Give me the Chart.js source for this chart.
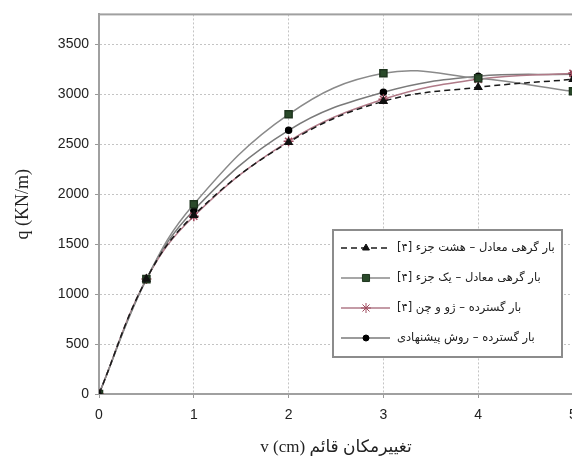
<!DOCTYPE html>
<html>
<head>
<meta charset="utf-8">
<script src="https://cdn.jsdelivr.net/npm/chart.js@4"></script>
<style>
  html, body { margin: 0; padding: 0; background: #fff; overflow: hidden; }
  #wrap { position: relative; width: 600px; height: 459px; }
</style>
</head>
<body>
<div id="wrap"><canvas id="chart" width="600" height="459"></canvas></div>
<script>
// values
const displacement = [0, 0.5, 1, 2, 3, 4, 5];          // v (cm)
const nodalEight   = [0, 1150, 1790, 2520, 2930, 3070, 3150];
const nodalOne     = [0, 1150, 1900, 2800, 3210, 3160, 3030];
const zhouChen     = [0, 1150, 1780, 2530, 2950, 3150, 3210];
const proposed     = [0, 1150, 1840, 2640, 3020, 3180, 3200];

const seriesLabels = [
  'بار گرهی معادل – هشت جزء [۴]',
  'بار گرهی معادل – یک جزء [۴]',
  'بار گسترده – ژو و چن [۴]',
  'بار گسترده – روش پیشنهادی'
];
const xTicks = [0, 1, 2, 3, 4, 5];
const yTicks = [0, 500, 1000, 1500, 2000, 2500, 3000, 3500];
const yMax = 3800;

const xTitle = 'v (cm) تغییرمکان قائم';
const yTitle = 'q (KN/m)';

function pts(values) {
  return values.map((v, i) => ({ x: displacement[i], y: v }));
}

// legend box drawn inside the plot, like the original
const boxLegend = {
  id: 'boxLegend',
  afterDraw(chart) {
    const ctx = chart.ctx;
    const x0 = 333, y0 = 230, w = 229, h = 127;
    ctx.save();
    ctx.fillStyle = '#fff';
    ctx.fillRect(x0, y0, w, h);
    ctx.strokeStyle = '#8c8c8c';
    ctx.lineWidth = 2;
    ctx.strokeRect(x0, y0, w, h);

    const rows = [248, 278, 308, 338];
    chart.data.datasets.forEach((ds, i) => {
      const y = rows[i];
      ctx.save();
      ctx.strokeStyle = ds.borderColor;
      ctx.lineWidth = ds.borderWidth;
      ctx.setLineDash(ds.borderDash || []);
      ctx.beginPath();
      ctx.moveTo(341, y);
      ctx.lineTo(390, y);
      ctx.stroke();
      ctx.restore();

      ctx.fillStyle = ds.pointBackgroundColor;
      ctx.strokeStyle = ds.pointBorderColor;
      ctx.lineWidth = 1;
      Chart.helpers.drawPoint(ctx, {
        pointStyle: ds.pointStyle,
        radius: ds.pointRadius,
        rotation: 0,
        borderWidth: 1
      }, 366, y);

      ctx.fillStyle = '#222';
      ctx.font = '11.5px "DejaVu Sans"';
      ctx.direction = 'rtl';
      ctx.textAlign = 'left';
      ctx.textBaseline = 'middle';
      ctx.fillText(ds.label, 397, y);
    });
    ctx.restore();
  }
};

// gray frame round the plot area
const frame = {
  id: 'frame',
  beforeDatasetsDraw(chart) {
    const { ctx, chartArea: a } = chart;
    ctx.save();
    ctx.strokeStyle = '#a0a0a0';
    ctx.lineWidth = 2;
    ctx.strokeRect(a.left, a.top, a.right - a.left, a.bottom - a.top);
    ctx.restore();
  }
};

new Chart(document.getElementById('chart'), {
  type: 'scatter',
  data: {
    datasets: [
      {
        label: seriesLabels[0],
        data: pts(nodalEight),
        showLine: true,
        borderColor: '#1a1a1a',
        borderWidth: 1.5,
        borderDash: [6, 4],
        pointStyle: 'triangle',
        pointRadius: 4,
        pointBackgroundColor: '#111',
        pointBorderColor: '#111',
        tension: 0.4
      },
      {
        label: seriesLabels[1],
        data: pts(nodalOne),
        showLine: true,
        borderColor: '#8a8a8a',
        borderWidth: 1.5,
        pointStyle: 'rect',
        pointRadius: 5,
        pointBackgroundColor: '#2a4a2a',
        pointBorderColor: '#1e351e',
        tension: 0.4
      },
      {
        label: seriesLabels[2],
        data: pts(zhouChen),
        showLine: true,
        borderColor: '#b07a88',
        borderWidth: 1.5,
        pointStyle: 'star',
        pointRadius: 5,
        pointBackgroundColor: '#a04a5e',
        pointBorderColor: '#a04a5e',
        tension: 0.4
      },
      {
        label: seriesLabels[3],
        data: pts(proposed),
        showLine: true,
        borderColor: '#7a7a7a',
        borderWidth: 1.5,
        pointStyle: 'circle',
        pointRadius: 3,
        pointBackgroundColor: '#000',
        pointBorderColor: '#000',
        tension: 0.4
      }
    ]
  },
  options: {
    responsive: false,
    animation: false,
    layout: { padding: { top: 13, right: 27, left: 0, bottom: 0 } },
    plugins: {
      legend: { display: false },
      tooltip: { enabled: false }
    },
    scales: {
      x: {
        type: 'linear',
        min: 0,
        max: 5,
        afterFit: s => { s.height = 65; },
        afterBuildTicks: s => { s.ticks = xTicks.map(v => ({ value: v })); },
        grid: { color: '#c4c4c4', tickLength: 4, tickColor: '#999' },
        border: { color: '#a0a0a0', width: 2, dash: [2, 2] },
        ticks: {
          color: '#222',
          padding: 9,
          font: { family: 'Liberation Sans', size: 14 },
          callback: v => String(v)
        },
        title: {
          display: true,
          text: xTitle,
          color: '#222',
          padding: { top: 0, bottom: 1 },
          font: { family: '"Liberation Serif", "DejaVu Sans"', size: 17 }
        }
      },
      y: {
        min: 0,
        max: yMax,
        afterFit: s => { s.width = 99; },
        afterBuildTicks: s => { s.ticks = yTicks.map(v => ({ value: v })); },
        grid: { color: '#c4c4c4', tickLength: 4, tickColor: '#999' },
        border: { color: '#a0a0a0', width: 2, dash: [2, 2] },
        ticks: {
          color: '#222',
          padding: 6,
          font: { family: 'Liberation Sans', size: 14 },
          callback: v => String(v)
        },
        title: {
          display: true,
          text: yTitle,
          color: '#222',
          padding: { top: 12, bottom: 0 },
          font: { family: 'Liberation Serif', size: 18 }
        }
      }
    }
  },
  plugins: [frame, boxLegend]
});
</script>
</body>
</html>
